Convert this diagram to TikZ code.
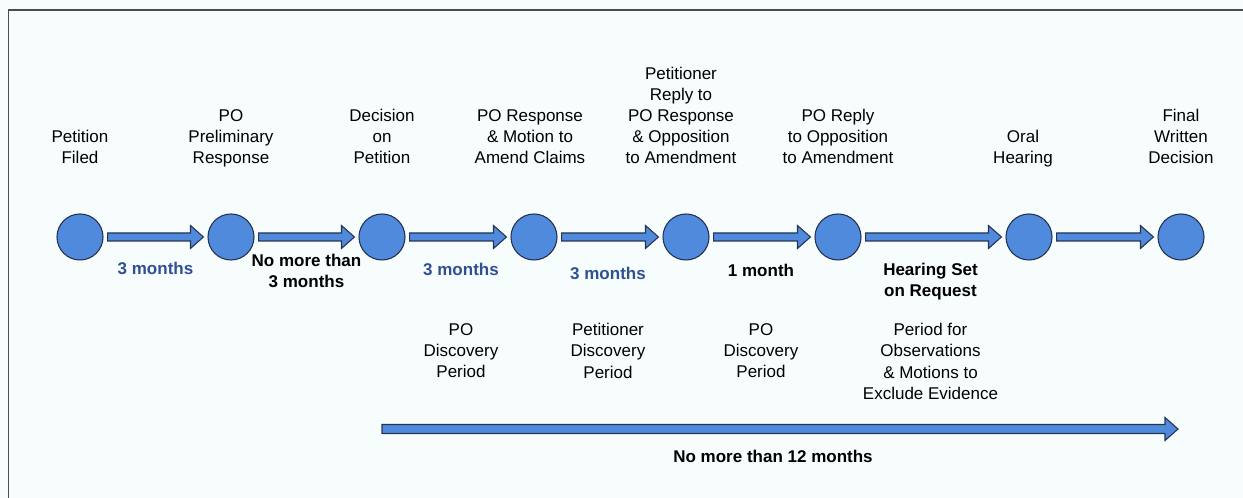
\documentclass[tikz,border=0pt]{standalone}
\usepackage{fontspec}
\setmainfont{Liberation Sans}
\usetikzlibrary{positioning,calc}

\definecolor{dotblue}{RGB}{80,138,220}
\definecolor{edgenavy}{RGB}{38,52,84}
\definecolor{gapblue}{RGB}{47,80,145}
\definecolor{paper}{RGB}{247,253,253}

% block arrow between two points, #1 = gap at both ends
\newcommand{\blockarrow}[4][4]{%
	\draw[blockarr] let \p1=($(#2)+(#1,0)$), \p2=($(#3)-(#1,0)$) in
		(\x1,\y1+#4) -- (\x2-13,\y1+#4) -- (\x2-13,\y1+11.5) -- (\x2,\y1)
		-- (\x2-13,\y1-11.5) -- (\x2-13,\y1-#4) -- (\x1,\y1-#4) -- cycle;}

\begin{document}
\begin{tikzpicture}[x=1pt, y=1pt,
	event/.style={shape=circle, draw=edgenavy, line width=1.1pt,
				  fill=dotblue, minimum size=46pt, inner sep=0pt},
	blockarr/.style={draw=edgenavy, line width=1.1pt, fill=dotblue},
	stage/.style={align=center, inner sep=0pt, text depth=4pt,
				  font=\fontsize{17}{21}\selectfont},
	gaplabel/.style={align=center, inner sep=0pt,
					 font=\fontsize{17}{21}\selectfont\bfseries},
	period/.style={align=center, inner sep=0pt, anchor=north,
				   font=\fontsize{17}{21.3}\selectfont}]
	\fill[paper] (0,0) rectangle (1243,498);
	\useasboundingbox (0,0) rectangle (1243,498);
	\draw[line width=1.5pt, gray!60!black] (8.5,0) -- (8.5,488) -- (1243,488);

	% events
	\draw (80,261) node[event](filed){};
	\draw (231,261) node[event](prelim){};
	\draw (382,261) node[event](decision){};
	\draw (534,261) node[event](amend){};
	\draw (686,261) node[event](oppose){};
	\draw (838,261) node[event](poreply){};
	\draw (1029,261) node[event](oral){};
	\draw (1181,261) node[event](final){};

	\node[stage, above=46pt of filed](tfiled){Petition\\Filed};
	\node[stage, above=46pt of prelim](tprelim){PO\\Preliminary\\Response};
	\node[stage, above=46pt of decision](tdecision){Decision\\on\\Petition};
	\node[stage, above=46pt of amend, xshift=-4pt](tamend){PO Response\\\& Motion to\\Amend Claims};
	\node[stage, above=46pt of oppose, xshift=-5pt](toppose){Petitioner\\Reply to\\PO Response\\\& Opposition\\to Amendment};
	\node[stage, above=46pt of poreply](tporeply){PO Reply\\to Opposition\\to Amendment};
	\node[stage, above=46pt of oral, xshift=-6pt](toral){Oral\\Hearing};
	\node[stage, above=46pt of final](tfinal){Final\\Written\\Decision};

	% arrows between events
	\blockarrow{filed.east}{prelim.west}{4}
	\blockarrow{prelim.east}{decision.west}{4}
	\blockarrow{decision.east}{amend.west}{4}
	\blockarrow{amend.east}{oppose.west}{4}
	\blockarrow{oppose.east}{poreply.west}{4}
	\blockarrow{poreply.east}{oral.west}{4}
	\blockarrow{oral.east}{final.west}{4}

	% time between events
	\node[gaplabel, text=gapblue](g1) at ($(filed)!.5!(prelim)+(0,-31)$){3 months};
	\node[gaplabel](g2) at ($(prelim)!.5!(decision)+(0,-33.5)$){No more than\\3 months};
	\node[gaplabel, text=gapblue](g3) at ($(decision)!.5!(amend)+(3,-32)$){3 months};
	\node[gaplabel, text=gapblue](g4) at ($(amend)!.5!(oppose)+(-2,-36)$){3 months};
	\node[gaplabel](g5) at ($(oppose)!.5!(poreply)+(-1,-33)$){1 month};
	\node[gaplabel](g6) at ($(poreply)!.5!(oral)+(-3,-44.5)$){Hearing Set\\on Request};

	\node[period] (p3) at (g3 |- 0,175){PO\\Discovery\\Period};
	\node[period] (p4) at (g4 |- 0,175){Petitioner\\Discovery\\Period};
	\node[period] (p5) at (g5 |- 0,175){PO\\Discovery\\Period};
	\node[period] (p6) at (g6 |- 0,175){Period for\\Observations\\\& Motions to\\Exclude Evidence};

	% overall limit
	\coordinate (lstart) at (decision |- 0,69);
	\coordinate (lend) at ($(final |- 0,69)+(-3,0)$);
	\blockarrow[0]{lstart}{lend}{4.5}
	\node[gaplabel](total) at (773,42){No more than 12 months};
\end{tikzpicture}
\end{document}
